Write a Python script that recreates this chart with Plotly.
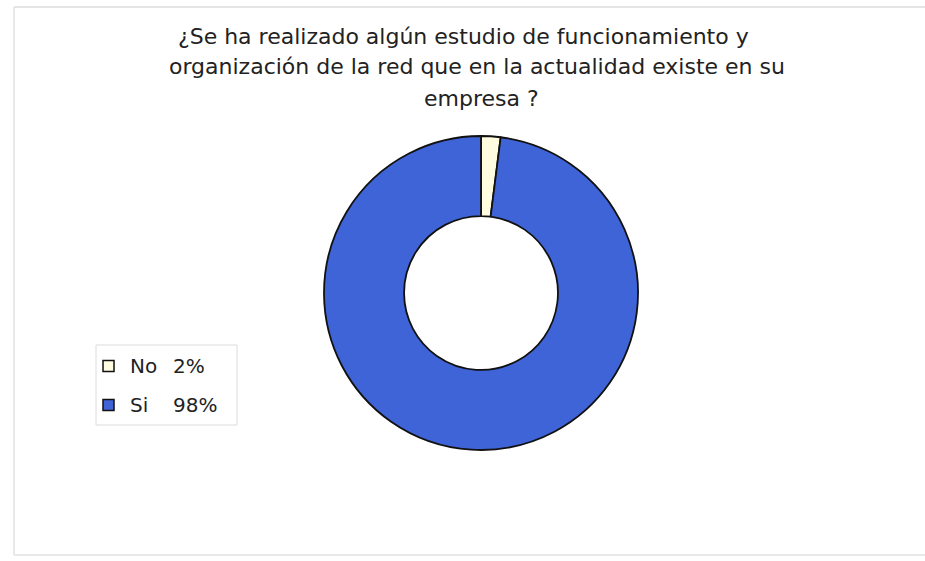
import plotly.graph_objects as go

# Survey answers and their shares (percent)
labels = ["No", "Si"]
values = [2, 98]
colors = ["#FFFCE0", "#3F64D8"]

title_lines = [
    "¿Se ha realizado algún estudio de funcionamiento y",
    "organización de la red que en la actualidad existe en su",
    "empresa ?",
]

W, H = 925, 561

fig = go.Figure()
fig.add_trace(go.Pie(
    labels=labels,
    values=values,
    hole=0.49,
    sort=False,
    direction="clockwise",
    rotation=0,
    textinfo="none",
    hoverinfo="label+percent",
    marker=dict(colors=colors, line=dict(color="#111111", width=1.8)),
    domain=dict(x=[(481 - 157) / W, (481 + 157) / W],
                y=[(H - 293 - 157) / H, (H - 293 + 157) / H]),
    showlegend=False,
))

title_font = dict(family="DejaVu Sans, Arial, sans-serif", size=22, color="#222222")
legend_font = dict(family="DejaVu Sans, Arial, sans-serif", size=20, color="#222222")

annotations = []
for line, cx, cy in zip(title_lines, [463, 477, 481], [36, 67, 98]):
    annotations.append(dict(
        text=line, x=cx / W, y=1 - cy / H,
        xref="paper", yref="paper", xanchor="center", yanchor="middle",
        showarrow=False, font=title_font,
    ))

shapes = [
    # faint frame around the chart area
    dict(type="line", xref="paper", yref="paper", x0=14 / W, x1=1, y0=1 - 7 / H, y1=1 - 7 / H,
         line=dict(color="#dddddd", width=1.5)),
    dict(type="line", xref="paper", yref="paper", x0=14 / W, x1=14 / W, y0=1 - 7 / H, y1=1 - 555 / H,
         line=dict(color="#e2e2e2", width=1.5)),
    dict(type="line", xref="paper", yref="paper", x0=14 / W, x1=1, y0=1 - 555 / H, y1=1 - 555 / H,
         line=dict(color="#e2e2e2", width=1.5)),
    # legend box
    dict(type="rect", xref="paper", yref="paper", x0=96 / W, x1=237 / W, y0=1 - 425 / H, y1=1 - 345 / H,
         line=dict(color="#dcdcdc", width=1), fillcolor="white"),
]

# legend entries built from the data: swatch, label, and value in an aligned column
for lab, val, col, cy in zip(labels, values, colors, [366, 405]):
    shapes.append(dict(type="rect", xref="paper", yref="paper",
                       x0=103 / W, x1=114 / W, y0=1 - (cy + 5.5) / H, y1=1 - (cy - 5.5) / H,
                       line=dict(color="#111111", width=1.5), fillcolor=col))
    annotations.append(dict(
        text=lab, x=128 / W, y=1 - cy / H,
        xref="paper", yref="paper", xanchor="left", yanchor="middle",
        showarrow=False, font=legend_font,
    ))
    annotations.append(dict(
        text=f"{val}%", x=171 / W, y=1 - cy / H,
        xref="paper", yref="paper", xanchor="left", yanchor="middle",
        showarrow=False, font=legend_font,
    ))

fig.update_layout(
    width=W, height=H,
    margin=dict(l=0, r=0, t=0, b=0),
    paper_bgcolor="white",
    plot_bgcolor="white",
    annotations=annotations,
    shapes=shapes,
)

fig.write_html("out.html")
